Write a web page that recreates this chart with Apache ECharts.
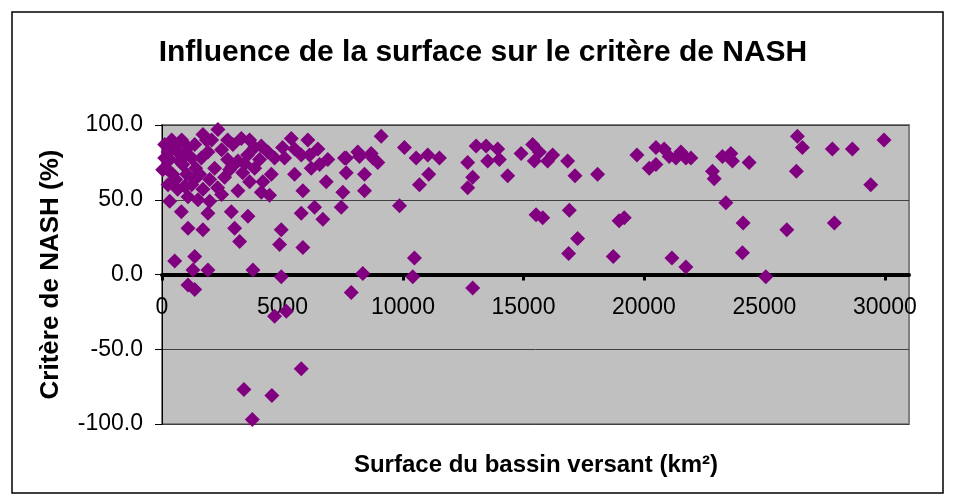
<!DOCTYPE html>
<html>
<head>
<meta charset="utf-8">
<title>Influence de la surface sur le critère de NASH</title>
<script src="https://cdn.jsdelivr.net/npm/echarts@6/dist/echarts.min.js"></script>
<style>
    html,body{margin:0;padding:0;background:#fff}
    #nash{width:955px;height:500px}
</style>
</head>
<body>
<div id="nash"></div>
<script>
// 数据: surface du bassin versant (km²) et critère de NASH (%)
let surface = [
    1700,2322,249,527,112,182,249,734,1078,1356,1634,1907,2185,2600,1700,2944,3292,3636,3843,4121,
    3151,3429,3843,4395,4672,4536,4187,3636,3151,4121,4465,5087,5365,6053,5780,5502,5846,6468,6882,6194,
    6816,7575,7645,7504,7438,319,804,1078,1493,1978,1907,1078,1700,2877,3566,3014,3221,4950,4880,5846,
    5780,6331,6675,527,1356,1285,1907,3773,4950,1078,1356,7853,8333,10406,12894,4672,5158,5780,3400,4561,
    3748,9096,7645,8126,8197,8682,8748,8955,8404,8404,9855,10062,10547,11028,11513,11070,10684,12687,13035,13450,
    13931,13516,14001,12894,12687,14345,14901,15382,15452,15523,10477,15660,16003,16211,16833,17140,18077,15800,16903,18970,
    19183,17247,16874,18727,19710,20497,20841,20220,20497,21049,21327,21534,21741,21949,22844,22915,23259,23400,21161,21741,
    26369,26576,27820,28649,29963,29412,26327,23607,23674,24366,24117,25929,27903,24088,25058,
    402,651,858,1024,1231,1397,817,444,651,941,1356,1978,2309,2475,2724,2807,2060,2724,4050,3553,
    5004,5502,6124,6538,28,112,324,568,941,1231,1563,1845,2475,2900,3350
]
let nash = [
    93.6,97,82,86,78,71,60,76,85,87,78,82,71,65,57,87,91,90,85,86,
    76,74,71,82,78,67,62,62,56,55,53,78,91,90,80,67,56,84,77,71,
    62,78,68,55,45,49,42,52,50,49,41,31,30,42,39,31,22,30,20,18,
    41,45,37,9,12,3,3,3,-1.5,-7,-10,-12,0.7,-1.5,-9,-28,-24.5,-63,-77,-81,
    -97,92.5,78,82,79,81,78,75,67,56,46,85,78,80,78,67,60,75,86,86,
    84,76,77,65,58,66,81,87,76,40,11,82,76,80,76,66,67,38,43,36,
    38,24,14,12,80,85,84,71,73.5,79,78,82,78,78,69,64,79,48,11,5,
    92.5,85,84,84,90,60,69,81,76,75,34.5,30,34.5,14.5,-1.5,
    90,82,73.5,67,78,71,90,67,57,59,63.5,63.5,58,83.5,77,70,90,90,77,80,
    85,84,80,73.5,70,87,77,63.5,80,60,67,90,53.5,72,68
]
let xTicks = [0,5000,10000,15000,20000,25000,30000]
let yTicks = [-100,-50,0,50,100]

function nashChart(){
    let box = document.querySelector("#nash")
    let myChart = echarts.init(box)
    let points = surface.map((s,i)=>[s,nash[i]])
    let font = "'Liberation Sans', Arial, sans-serif"
    let option = {
        backgroundColor:"#ffffff",
        // 外框
        graphic:[{
            type:"rect",
            shape:{x:12,y:12,width:931,height:481},
            style:{fill:"none",stroke:"#000",lineWidth:1.5},
            silent:true
        }],
        title:[
            {
                text:"Influence de la surface sur le critère de NASH",
                left:483,
                top:38,
                padding:0,
                textAlign:"center",
                textStyle:{fontFamily:font,fontSize:30,fontWeight:"bold",color:"#000"}
            },
            {
                text:"Surface du bassin versant (km²)",
                left:536,
                top:453,
                padding:0,
                textAlign:"center",
                textStyle:{fontFamily:font,fontSize:24,fontWeight:"bold",color:"#000"}
            }
        ],
        grid:{
            left:162,
            top:125,
            right:46,
            bottom:76,
            show:true,
            backgroundColor:"#C0C0C0",
            borderColor:"#808080",
            borderWidth:2
        },
        // x轴画在 y=0 的位置
        xAxis:{
            type:"value",
            min:0,
            max:31000,
            interval:5000,
            offset:-149.5,
            axisLine:{
                onZero:false,
                lineStyle:{color:"#000",width:4}
            },
            axisTick:{
                customValues:xTicks,
                length:6,
                lineStyle:{color:"#000",width:3}
            },
            axisLabel:{
                customValues:xTicks,
                margin:22,
                fontFamily:font,
                fontSize:23,
                color:"#000",
                formatter:v=>String(v)
            },
            splitLine:{show:false}
        },
        yAxis:{
            type:"value",
            min:-100,
            max:100,
            interval:50,
            name:"Critère de NASH (%)",
            nameLocation:"middle",
            nameGap:98,
            nameTextStyle:{fontFamily:font,fontSize:26,fontWeight:"bold",color:"#000"},
            axisLine:{show:true,onZero:false,lineStyle:{color:"#000",width:1}},
            axisTick:{show:true,length:7,lineStyle:{color:"#000"}},
            axisLabel:{
                margin:19,
                fontFamily:font,
                fontSize:23,
                color:"#000",
                formatter:v=>v.toFixed(1)
            },
            splitLine:{lineStyle:{color:"#404040",width:1}}
        },
        series:[{
            type:"scatter",
            data:points,
            symbol:"diamond",
            symbolSize:15,
            itemStyle:{color:"#800080",opacity:1},
            silent:true
        }]
    }
    myChart.setOption(option)
}
nashChart()
</script>
</body>
</html>
